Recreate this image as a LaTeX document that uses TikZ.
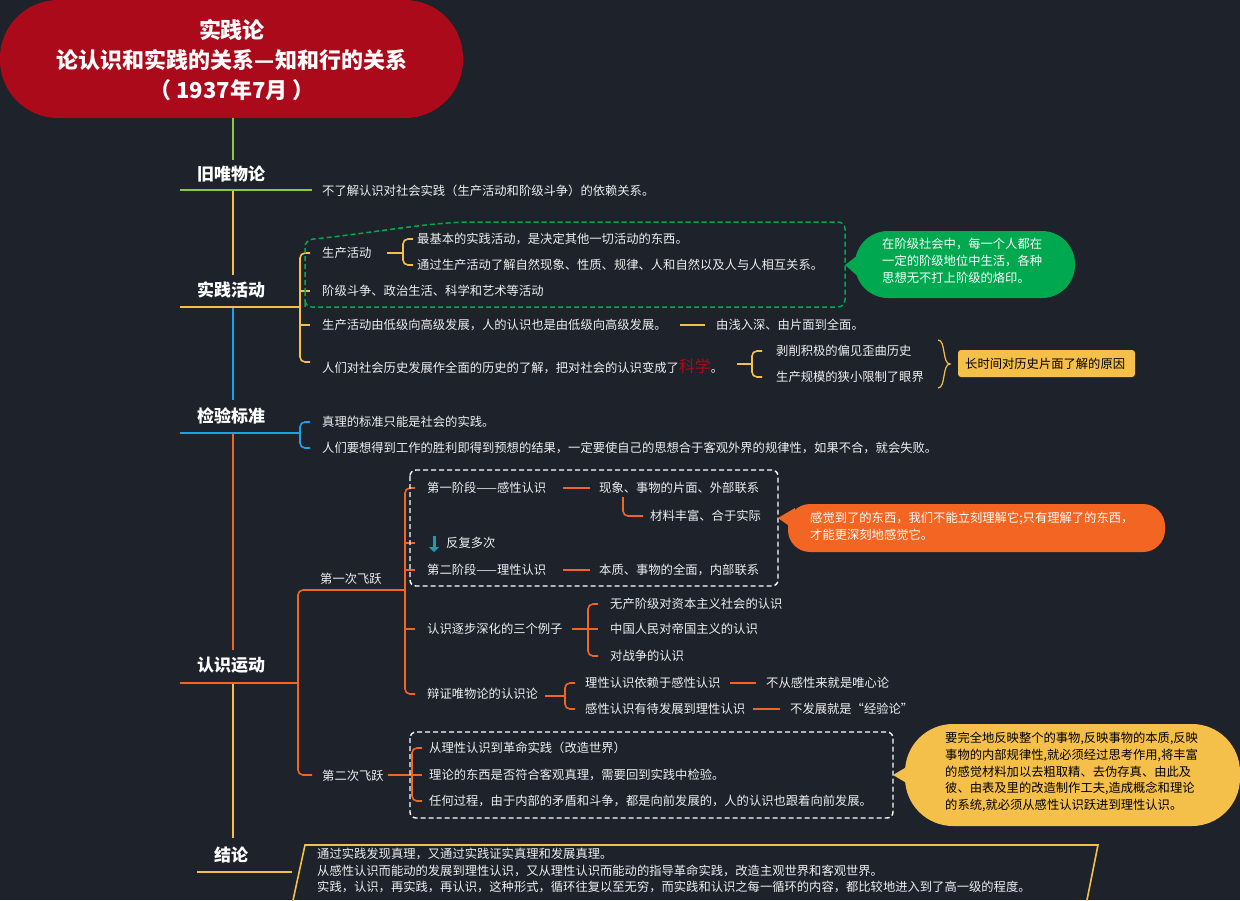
\documentclass[tikz,border=0pt]{standalone}
\usepackage{fontspec}
\setmainfont{Noto Sans CJK SC}
\usetikzlibrary{calc,arrows.meta}
\definecolor{bg}{HTML}{1D222B}
\definecolor{cy}{HTML}{F5C04A}
\definecolor{cg}{HTML}{8DC63F}
\definecolor{cb}{HTML}{1AA3E8}
\definecolor{co}{HTML}{F26522}
\definecolor{cr}{HTML}{AB0A1A}
\definecolor{cgr}{HTML}{00A94F}
\definecolor{tx}{HTML}{EEEEEE}
\definecolor{cteal}{HTML}{1A9BB0}
\begin{document}
\begin{tikzpicture}[x=1pt,y=-1pt,
  t/.style={anchor=west,text=tx,font=\fontsize{12.3}{14}\selectfont,inner sep=0pt},
  h/.style={text=white,font=\fontsize{17}{20}\selectfont\bfseries,inner sep=0pt},
  ln/.style={line width=1.6pt}]
\fill[bg] (0,0) rectangle (1240,900);
\useasboundingbox (0,0) rectangle (1240,900);
\newcommand{\brk}[4]{\draw[ln,#1,rounded corners=5] ($(#2,#3)+(10,0)$) -- (#2,#3) -- (#2,#4) -- ($(#2,#4)+(10,0)$);}
\newcommand{\stub}[3]{\draw[ln,#1] (#2,#3) -- ($(#2,#3)+(10,0)$);}
% title
\fill[cr,rounded corners=58] (0,0) rectangle (463,118);
\node[text=white,font=\fontsize{22}{30}\selectfont\bfseries,align=center] (title) at (232,60) {实践论\\论认识和实践的关系—知和行的关系\\（ 1937年7月 ）};
% spine
\draw[ln,cg] (233,118) -- (233,160);
\draw[ln,cy] (233,190) -- (233,275);
\draw[ln,cb] (233,307) -- (233,400);
\draw[ln,co] (233,433) -- (233,650);
\draw[ln,cy] (233,683) -- (233,838);
% headings
\node[h] (h1) at (231,174) {旧唯物论};
\draw[ln,cg] (180,190) -- (312,190);
\node[t] (a1) at (322,191) {不了解认识对社会实践（生产活动和阶级斗争）的依赖关系。};
\node[h] (h2) at (231,290) {实践活动};
\draw[ln,cy] (180,307) -- (300,307);
\node[h] (h3) at (231,416) {检验标准};
\draw[ln,cb] (180,433) -- (300,433);
\node[h] (h4) at (231,665) {认识运动};
\draw[ln,co] (180,683) -- (298,683);
\node[h] (h5) at (231,855) {结论};
\draw[ln,cy] (197,872) -- (292,872);
% 实践活动
\brk{cy}{300}{253}{362}
\stub{cy}{300}{291}
\stub{cy}{300}{325}
\node[t] (b1) at (322,253) {生产活动};
\node[t] (b2) at (322,291) {阶级斗争、政治生活、科学和艺术等活动};
\node[t] (b3) at (322,325) {生产活动由低级向高级发展，人的认识也是由低级向高级发展。};
\node[t] (b4) at (322,366) {人们对社会历史发展作全面的历史的了解，把对社会的认识变成了{\color{cr}\fontsize{16}{16}\selectfont 科学}。};
\draw[ln,cy] (387,253) -- (403,253);
\brk{cy}{403}{239}{265}
\node[t] (b11) at (417,239) {最基本的实践活动，是决定其他一切活动的东西。};
\node[t] (b12) at (417,265) {通过生产活动了解自然现象、性质、规律、人和自然以及人与人相互关系。};
\draw[ln,cy] (680,325) -- (705,325);
\node[t] (b31) at (716,325) {由浅入深、由片面到全面。};
\draw[ln,cy] (737,364) -- (752,364);
\brk{cy}{752}{351}{377}
\node[t] (b41) at (776,351) {剥削积极的偏见歪曲历史};
\node[t] (b42) at (776,377) {生产规模的狭小限制了眼界};
\draw[cy,line width=1.2pt] (938,340) .. controls (946,340) and (942,364) .. (950,364) .. controls (942,364) and (946,388) .. (938,388);
\fill[cy,rounded corners=3] (958,350) rectangle (1135,377);
\node[anchor=west,inner sep=0pt,font=\fontsize{12.3}{14}\selectfont] (b5) at (965,364) {长时间对历史片面了解的原因};
\draw[cgr,line width=1.5pt,dash pattern=on 5pt off 3pt,rounded corners=7] (305,300) -- (305,240) .. controls (380,232) and (430,222) .. (480,222) -- (845,222) -- (845,307) -- (305,307) -- cycle;
\fill[cgr] (845,265) -- (862,252) -- (862,280) -- cycle;
\fill[cgr,rounded corners=33] (855,231) rectangle (1075,298);
\node[anchor=north west,text=white,inner sep=0pt,align=left,font=\fontsize{12.3}{17}\selectfont] (g) at (882,238) {在阶级社会中，每一个人都在\\一定的阶级地位中生活，各种\\思想无不打上阶级的烙印。};
% 检验标准
\brk{cb}{300}{422}{448}
\node[t] (c1) at (322,422) {真理的标准只能是社会的实践。};
\node[t] (c2) at (322,448) {人们要想得到工作的胜利即得到预想的结果，一定要使自己的思想合于客观外界的规律性，如果不合，就会失败。};
% 认识运动
\draw[ln,co,rounded corners=5] (298,683) -- (298,590) -- (405,590);
\draw[ln,co,rounded corners=5] (298,683) -- (298,775) -- (312,775);
\draw[ln,co] (388,775) -- (412,775);
\node[t] (d1) at (320,579) {第一次飞跃};
\node[t] (d2) at (322,776) {第二次飞跃};
\brk{co}{405}{488}{694}
\stub{co}{405}{543}
\stub{co}{405}{570}
\stub{co}{405}{629}
\node[t] (e1) at (427,488) {第一阶段——感性认识};
\draw[cteal,line width=3pt,-{Triangle[length=5pt,width=10pt]}] (434,536) -- (434,552);
\node[t] (e2) at (446,543) {反复多次};
\node[t] (e3) at (427,570) {第二阶段——理性认识};
\node[t] (e4) at (427,629) {认识逐步深化的三个例子};
\node[t] (e5) at (427,694) {辩证唯物论的认识论};
\draw[ln,co] (563,488) -- (590,488);
\node[t] (e11) at (599,488) {现象、事物的片面、外部联系};
\draw[ln,co,rounded corners=5] (623,497) -- (623,516) -- (643,516);
\node[t] (e12) at (650,516) {材料丰富、合于实际};
\draw[ln,co] (563,570) -- (590,570);
\node[t] (e31) at (599,570) {本质、事物的全面，内部联系};
\draw[white,line width=1.4pt,dash pattern=on 5pt off 3pt,rounded corners=6] (410,470) rectangle (778,586);
\fill[co] (778,518) -- (795,508) -- (795,530) -- cycle;
\fill[co,rounded corners=22] (788,504) rectangle (1165,552);
\node[anchor=north west,text=white,inner sep=0pt,align=left,font=\fontsize{12.3}{17}\selectfont] (o) at (810,512) {感觉到了的东西，我们不能立刻理解它;只有理解了的东西，\\才能更深刻地感觉它。};
\draw[ln,co] (572,629) -- (588,629);
\brk{co}{588}{604}{656}
\stub{co}{588}{629}
\node[t] (e41) at (610,604) {无产阶级对资本主义社会的认识};
\node[t] (e42) at (610,629) {中国人民对帝国主义的认识};
\node[t] (e43) at (610,656) {对战争的认识};
\draw[ln,co] (545,696) -- (565,696);
\brk{co}{565}{683}{709}
\node[t] (e51) at (585,683) {理性认识依赖于感性认识};
\node[t] (e52) at (585,709) {感性认识有待发展到理性认识};
\draw[ln,co] (730,683) -- (756,683);
\node[t] (e511) at (766,683) {不从感性来就是唯心论};
\draw[ln,co] (753,709) -- (780,709);
\node[t] (e521) at (790,709) {不发展就是“经验论”};
% 第二次飞跃
\brk{co}{412}{748}{801}
\stub{co}{412}{775}
\node[t] (f1) at (429,748) {从理性认识到革命实践（改造世界）};
\node[t] (f2) at (429,775) {理论的东西是否符合客观真理，需要回到实践中检验。};
\node[t] (f3) at (429,801) {任何过程，由于内部的矛盾和斗争，都是向前发展的，人的认识也跟着向前发展。};
\draw[white,line width=1.4pt,dash pattern=on 5pt off 3pt,rounded corners=6] (410,732) rectangle (893,818);
\fill[cy] (893,775) -- (915,762) -- (915,788) -- cycle;
\fill[cy,rounded corners=48] (905,724) rectangle (1240,826);
\node[anchor=north west,inner sep=0pt,align=left,font=\fontsize{12.3}{16.7}\selectfont] (y) at (945,732) {要完全地反映整个的事物,反映事物的本质,反映\\事物的内部规律性,就必须经过思考作用,将丰富\\的感觉材料加以去粗取精、去伪存真、由此及\\彼、由表及里的改造制作工夫,造成概念和理论\\的系统,就必须从感性认识跃进到理性认识。};
% 结论
\draw[cy,line width=1.6pt] (292,905) -- (305,845) -- (1098,845) -- (1086,905);
\node[anchor=north west,text=tx,inner sep=0pt,align=left,font=\fontsize{12.3}{16.5}\selectfont] (k) at (317,848) {通过实践发现真理，又通过实践证实真理和发展真理。\\从感性认识而能动的发展到理性认识，又从理性认识而能动的指导革命实践，改造主观世界和客观世界。\\实践，认识，再实践，再认识，这种形式，循环往复以至无穷，而实践和认识之每一循环的内容，都比较地进入到了高一级的程度。};
\end{tikzpicture}
\end{document}
